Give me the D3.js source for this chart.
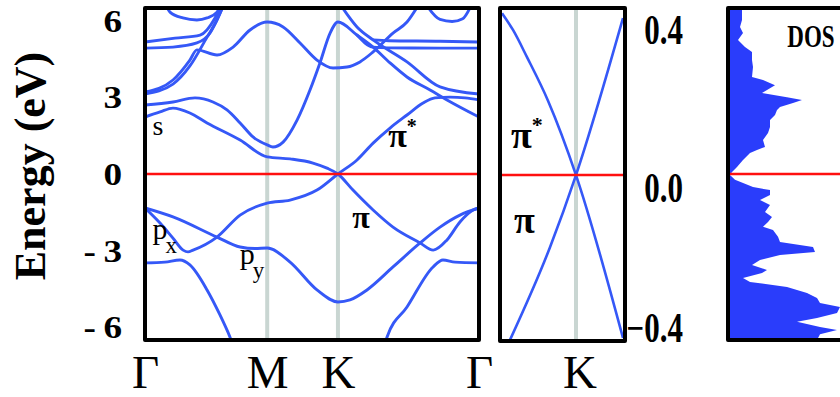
<!DOCTYPE html>
<html><head><meta charset="utf-8">
<script src="https://cdn.jsdelivr.net/npm/d3@7"></script>
<style>
body{margin:0;background:#fff;}
svg{display:block;}
text{font-family:"Liberation Serif","Times New Roman",serif;fill:#000;}
</style></head><body>
<svg id="chart" width="840" height="397"></svg>
<script>
// ---------------- data ----------------
const kLabels = ["Γ", "M", "K", "Γ"];
const kPositions = [0, 0.577, 0.911, 1.577];
const energyTicks = [-6, -3, 0, 3, 6];
const zoomTicks = [0.4, 0.0, -0.4];
const zoomKLabel = "K";

// band structure curves: [k (2π/a), E (eV)]
const bandP1 = [[0,-1.33],[0.071,-1.92],[0.132,-2.51],[0.180,-2.98],[0.203,-3.05],[0.227,-2.98],[0.340,-2.47],[0.449,-1.61],[0.577,-1.14],[0.685,-1.02],[0.812,-0.63],[0.911,0],[1.001,0.55],[1.077,1.21],[1.157,1.80],[1.237,2.31],[1.313,2.78],[1.369,2.98],[1.44,3.01],[1.511,2.98],[1.577,2.90]];
const bandU2 = [[0,2.23],[0.071,2.43],[0.132,2.58],[0.212,2.39],[0.293,2.0],[0.449,1.33],[0.577,0.67],[0.685,0.59],[0.793,0.43],[0.859,0.23],[0.911,0],[0.982,-0.63],[1.077,-1.41],[1.171,-2.08],[1.299,-2.70],[1.361,-2.98],[1.426,-2.58],[1.487,-1.88],[1.549,-1.41],[1.577,-1.33]];
const bandP3a = [[0,-3.48],[0.094,-3.45],[0.165,-3.37],[0.212,-3.56],[0.293,-4.54],[0.354,-5.52],[0.401,-6.38],[0.430,-7.0]];
const bandP3b = [[1.120,-7.0],[1.143,-6.38],[1.237,-5.21],[1.360,-3.64],[1.407,-3.37],[1.464,-3.45],[1.577,-3.48]];
const bandP4 = [[0,-1.33],[0.132,-1.68],[0.340,-2.47],[0.449,-2.86],[0.520,-2.92],[0.577,-2.90],[0.685,-3.45],[0.812,-4.54],[0.911,-5.01],[0.968,-4.93],[1.048,-4.54],[1.171,-3.64],[1.299,-2.70],[1.393,-2.08],[1.487,-1.61],[1.577,-1.33]];
const bandU3 = [[0,2.70],[0.132,2.82],[0.236,2.98],[0.321,2.82],[0.387,2.51],[0.449,2.00],[0.510,1.45],[0.577,1.14],[0.604,1.06],[0.652,1.25],[0.718,2.11],[0.779,3.29],[0.826,4.35],[0.874,5.52],[0.911,5.95],[1.001,5.44],[1.077,4.97],[1.157,4.35],[1.237,3.80],[1.346,3.29],[1.426,2.90],[1.577,2.23]];
const bandU4 = [[0,3.21],[0.132,3.68],[0.212,4.46],[0.245,4.86],[0.340,4.66],[0.416,4.97],[0.496,5.64],[0.577,5.95],[0.652,5.76],[0.732,5.13],[0.812,4.46],[0.888,4.15],[0.954,4.19],[1.015,4.39],[1.077,4.78],[1.171,5.52],[1.237,5.95],[1.290,6.6]];
const bandT4 = [[0,3.13],[0.132,3.52],[0.212,4.23],[0.293,5.36],[0.340,6.03],[0.380,6.8]];
const bandT1 = [[0,5.17],[0.142,5.32],[0.260,5.44],[0.330,6.1],[0.370,6.8]];
const bandT2 = [[0,4.93],[0.132,4.97],[0.245,5.13],[0.307,5.52],[0.354,6.30],[0.380,6.8]];
const bandTop = [[0.090,6.8],[0.118,6.34],[0.179,6.11],[0.245,6.03],[0.293,6.11],[0.340,6.34],[0.370,6.8]];
const bandR1 = [[0.925,6.6],[1.001,5.76],[1.077,5.25],[1.237,4.39],[1.393,3.41],[1.577,3.13]];
const bandH1 = [[1.077,5.25],[1.15,5.22],[1.393,5.20],[1.577,5.17]];
const bandH2 = [[1.001,5.44],[1.077,4.97],[1.15,4.94],[1.393,4.93],[1.577,4.93]];
const bandTopR = [[1.330,6.6],[1.393,6.05],[1.45,5.97],[1.50,6.08],[1.540,6.6]];

const bands = [bandP1, bandU2, bandP3a, bandP3b, bandP4, bandU3, bandU4, bandT4, bandT1, bandT2, bandTop, bandR1, bandH1, bandH2, bandTopR];

// zoom near K: [dk, E (eV)]
const zoomBandA = [[-0.074,0.435],[-0.063,0.39],[-0.049,0.317],[-0.028,0.20],[0,0],[0.047,-0.438]];
const zoomBandB = [[-0.066,-0.443],[-0.026,-0.194],[0,0],[0.047,0.422]];
const zoomBands = [zoomBandA, zoomBandB];

// density of states (arb. units) vs energy (eV)
const dosEnergy = [6.5,6.42,6.03,5.76,5.52,5.25,4.97,4.78,4.46,4.19,3.80,3.68,3.48,3.29,3.17,3.01,2.90,2.78,2.62,2.51,2.31,2.11,1.84,1.61,1.33,1.06,0.94,0.82,0.55,0.27,0.08,-0.04,-0.23,-0.51,-0.63,-0.82,-1.02,-1.21,-1.49,-1.68,-1.88,-2.07,-2.19,-2.46,-2.66,-2.86,-3.05,-3.17,-3.37,-3.56,-3.76,-3.88,-4.07,-4.23,-4.42,-4.66,-4.86,-5.05,-5.21,-5.44,-5.64,-5.79,-5.99,-6.11,-6.27,-6.5];
const dosValues = [0.15,0.14,0.14,0.12,0.15,0.10,0.17,0.24,0.24,0.25,0.24,0.35,0.47,0.39,0.34,0.59,0.74,0.65,0.52,0.49,0.47,0.42,0.42,0.40,0.35,0.37,0.29,0.22,0.15,0.09,0.04,0.02,0.07,0.25,0.42,0.42,0.32,0.42,0.37,0.44,0.40,0.35,0.45,0.50,0.52,0.85,0.87,0.52,0.32,0.24,0.39,0.34,0.15,0.22,0.59,0.79,0.89,0.92,1.12,1.09,0.89,0.69,0.92,1.09,0.92,0.89];

// ---------------- drawing ----------------
const svg = d3.select("#chart");
const blue = "#3558f7", red = "#ff1010", guide = "#c9d6d2";

const x = d3.scaleLinear().domain([0, 1.577]).range([145, 479]);
const y = d3.scaleLinear().domain([-6.5, 6.5]).range([340, 8]);
const xz = d3.scaleLinear().domain([-0.076, 0.049]).range([500, 625]);
const yz = d3.scaleLinear().domain([-0.446, 0.449]).range([341, 8]);
const xd = d3.scaleLinear().domain([0, 1]).range([728, 828]);
const yd = d3.scaleLinear().domain([-6.5, 6.5]).range([340, 8]);

const defs = svg.append("defs");
function clip(id, x0, y0, w, h) {
  defs.append("clipPath").attr("id", id).append("rect").attr("x", x0).attr("y", y0).attr("width", w).attr("height", h);
}
clip("cMain", x.range()[0], y.range()[1], x.range()[1]-x.range()[0], y.range()[0]-y.range()[1]);
clip("cZoom", xz.range()[0], yz.range()[1], xz.range()[1]-xz.range()[0], yz.range()[0]-yz.range()[1]);
clip("cDos", xd(0), yd.range()[1], 200, yd.range()[0]-yd.range()[1]);

// ---- main panel ----
const gMain = svg.append("g");
const gm = gMain.append("g").attr("clip-path", "url(#cMain)");
gm.selectAll("line.guide").data(kPositions.slice(1, 3)).enter().append("line")
  .attr("x1", d => x(d)).attr("x2", d => x(d)).attr("y1", y.range()[0]).attr("y2", y.range()[1])
  .attr("stroke", guide).attr("stroke-width", 4);
const line = d3.line().x(d => x(d[0])).y(d => y(d[1])).curve(d3.curveMonotoneX);
gm.selectAll("path.band").data(bands).enter().append("path")
  .attr("d", line).attr("fill", "none").attr("stroke", blue).attr("stroke-width", 2.9)
  .attr("stroke-linejoin", "round").attr("stroke-linecap", "round");
gm.append("line").attr("x1", x.range()[0]).attr("x2", x.range()[1]).attr("y1", y(0)).attr("y2", y(0))
  .attr("stroke", red).attr("stroke-width", 2.5);
gMain.append("rect").attr("x", x.range()[0]).attr("y", y.range()[1])
  .attr("width", x.range()[1]-x.range()[0]).attr("height", y.range()[0]-y.range()[1])
  .attr("fill", "none").attr("stroke", "#000").attr("stroke-width", 4).attr("stroke-linejoin", "round");

// y axis labels
const yAxis = d3.axisLeft(y).tickValues(energyTicks).tickSize(0)
  .tickFormat(d => d < 0 ? "-\u2009" + Math.abs(d) : String(d));
const ga = svg.append("g").attr("transform", `translate(${x.range()[0]},0)`).call(yAxis);
ga.select(".domain").remove();
ga.selectAll("text").attr("x", 0).attr("dy", "0.34em")
  .attr("transform", "translate(-23,0) scale(1.2,1)")
  .style("font-family", "'Liberation Serif',serif").style("font-size", "31px").style("font-weight", "bold")
  .attr("fill", "#000");

// x labels
const xAxis = d3.axisBottom(x).tickValues(kPositions).tickSize(0).tickFormat((d, i) => kLabels[i]);
const gx = svg.append("g").attr("transform", `translate(0,${y.range()[0]})`).call(xAxis);
gx.select(".domain").remove();
gx.selectAll("text").attr("y", 0).attr("dy", "48px")
  .style("font-family", "'Liberation Serif',serif").style("font-size", "47px").attr("fill", "#000");

// y title
svg.append("text").attr("transform", "translate(45,166) rotate(-90)")
  .attr("text-anchor", "middle").style("font-size", "44px").style("font-weight", "bold")
  .text("Energy (eV)");

// annotations
function ann(g, txt, px, py, size, bold, sup, sub, supSize) {
  const t = g.append("text").attr("x", px).attr("y", py).style("font-size", size + "px")
    .style("font-weight", bold ? "bold" : "normal").text(txt);
  if (sup) t.append("tspan").attr("dy", -size * 0.42).style("font-size", supSize + "px").text(sup);
  if (sub) t.append("tspan").attr("dy", size * 0.45).attr("dx", -2).style("font-size", supSize + "px").text(sub);
}
ann(svg, "s", x(0.036), y(1.53), 28, false);
ann(svg, "π", x(1.148), y(1.06), 34, true, "*", null, 20);
ann(svg, "π", x(0.978), y(-2.11), 32, true);
ann(svg, "p", x(0.036), y(-2.55), 30, false, null, "x", 23);
ann(svg, "p", x(0.447), y(-3.53), 30, false, null, "y", 23);

// ---- zoom panel ----
const gZ = svg.append("g");
const gz = gZ.append("g").attr("clip-path", "url(#cZoom)");
gz.append("line").attr("x1", xz(0)).attr("x2", xz(0)).attr("y1", yz.range()[0]).attr("y2", yz.range()[1])
  .attr("stroke", guide).attr("stroke-width", 4);
const zline = d3.line().x(d => xz(d[0])).y(d => yz(d[1])).curve(d3.curveMonotoneX);
gz.selectAll("path.zb").data(zoomBands).enter().append("path").attr("d", zline)
  .attr("fill", "none").attr("stroke", blue).attr("stroke-width", 2.6);
gz.append("line").attr("x1", xz.range()[0]).attr("x2", xz.range()[1]).attr("y1", yz(0)).attr("y2", yz(0))
  .attr("stroke", red).attr("stroke-width", 2.5);
gZ.append("rect").attr("x", xz.range()[0]).attr("y", yz.range()[1])
  .attr("width", xz.range()[1]-xz.range()[0]).attr("height", yz.range()[0]-yz.range()[1])
  .attr("fill", "none").attr("stroke", "#000").attr("stroke-width", 4).attr("stroke-linejoin", "round");
const zAxis = d3.axisRight(yz).tickValues(zoomTicks).tickSize(0).tickFormat(d3.format(".1f"));
const gza = svg.append("g").attr("transform", `translate(${xz.range()[1]},0)`).call(zAxis);
gza.select(".domain").remove();
gza.selectAll("text").attr("x", 0).attr("dy", d => d === 0 ? "0.62em" : "0.42em")
  .attr("text-anchor", "end")
  .attr("transform", "translate(58,0) scale(1,1.35)")
  .style("font-family", "'Liberation Serif',serif").style("font-size", "31px").style("font-weight", "bold")
  .attr("fill", "#000");
svg.append("text").attr("x", xz(0) + 4).attr("y", yz.range()[0] + 47).attr("text-anchor", "middle")
  .style("font-size", "47px").text(zoomKLabel);
ann(svg, "π", xz(-0.065), yz(0.072), 38, true, "*", null, 22);
ann(svg, "π", xz(-0.062), yz(-0.155), 38, true);

// ---- DOS panel ----
const gD = svg.append("g");
const gd = gD.append("g").attr("clip-path", "url(#cDos)");
const dosData = dosEnergy.map((e, i) => [e, dosValues[i]]);
const area = d3.area().y(d => yd(d[0])).x0(xd(0)).x1(d => xd(d[1]));
gd.append("path").datum(dosData).attr("d", area).attr("fill", "#2a3dfb");
gd.append("line").attr("x1", xd(0)).attr("x2", 860).attr("y1", yd(0)).attr("y2", yd(0))
  .attr("stroke", red).attr("stroke-width", 2.5);
gD.append("rect").attr("x", xd(0)).attr("y", yd.range()[1]).attr("width", 200)
  .attr("height", yd.range()[0]-yd.range()[1])
  .attr("fill", "none").attr("stroke", "#000").attr("stroke-width", 4).attr("stroke-linejoin", "round");
svg.append("text").attr("x", 811).attr("y", 0).attr("text-anchor", "middle")
  .attr("transform", "translate(0,47) scale(1,1.4)")
  .style("font-size", "23px").style("font-weight", "bold").text("DOS");
</script></body></html>
